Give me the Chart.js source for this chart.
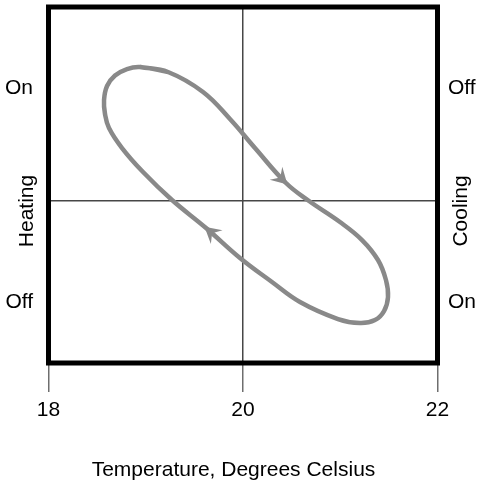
<!DOCTYPE html>
<html>
<head>
<meta charset="utf-8">
<title>Thermostat loop</title>
<script src="https://cdn.jsdelivr.net/npm/chart.js@4.4.0/dist/chart.umd.min.js"></script>
<style>
  html, body { margin: 0; padding: 0; background: #fff; }
  #wrap { width: 479px; height: 485px; }
</style>
</head>
<body>
<div id="wrap"><canvas id="loopChart"></canvas></div>
<script>
// temperature / controller state going round the loop (clockwise from the top),
// first two points repeated at the end so the curve closes smoothly
const loopTemp = [18.941, 19.229, 19.589, 19.866, 20.123, 20.442, 20.679, 20.997, 21.224, 21.388,
                  21.470, 21.491, 21.450, 21.357, 21.203, 20.977, 20.586, 20.298, 19.969, 19.620,
                  19.270, 18.972, 18.756, 18.622, 18.581, 18.571, 18.602, 18.684, 18.807, 18.941,
                  19.229];
const loopState = [3.764, 3.624, 3.062, 2.303, 1.489, 0.506, 0.0, -0.590, -1.096, -1.657,
                   -2.219, -2.697, -3.090, -3.343, -3.427, -3.315, -2.837, -2.275, -1.601, -0.758,
                   0.028, 0.815, 1.489, 2.051, 2.444, 2.837, 3.230, 3.525, 3.708, 3.764,
                   3.624];
// indexes of the loop points that carry a direction arrow
const arrowAt = [5, 19];

const tempTicks = [18, 20, 22];
const stateLevels = [3.17, -2.84];
const heatingLabels = ['On', 'Off'];
const coolingLabels = ['Off', 'On'];
const sideTitles = ['Heating', 'Cooling'];
const xTitle = 'Temperature, Degrees Celsius';

const FONT = '"Liberation Sans", Arial, Helvetica, sans-serif';
const lineGrey = '#898989';
const ruleGrey = '#474747';

function stateTicks(scale) {
  scale.ticks = [stateLevels[0], 0, stateLevels[1]].map(v => ({ value: v }));
}

function fixBox(w, h) {
  return s => {
    if (w) s.width = w;
    if (h) s.height = h;
    s.paddingTop = s.paddingBottom = s.paddingLeft = s.paddingRight = 0;
  };
}

// thick black box round the plot
const frame = {
  id: 'frame',
  beforeDatasetsDraw(chart) {
    const { ctx, chartArea: a } = chart;
    ctx.save();
    ctx.strokeStyle = '#000';
    ctx.lineWidth = 5;
    ctx.strokeRect(a.left, a.top, a.right - a.left, a.bottom - a.top);
    ctx.restore();
  }
};

// arrowheads showing which way the loop runs
const loopArrows = {
  id: 'loopArrows',
  afterDatasetsDraw(chart) {
    const pts = chart.getDatasetMeta(0).data;
    const ctx = chart.ctx;
    arrowAt.forEach(i => {
      const a = pts[i - 1], b = pts[i + 1], tip = pts[i];
      ctx.save();
      ctx.translate(tip.x, tip.y);
      ctx.rotate(Math.atan2(b.y - a.y, b.x - a.x));
      ctx.fillStyle = lineGrey;
      ctx.beginPath();
      ctx.moveTo(2, 0);
      ctx.lineTo(-14, -9);
      ctx.lineTo(-8, 0);
      ctx.lineTo(-14, 9);
      ctx.closePath();
      ctx.fill();
      ctx.restore();
    });
  }
};

// rotated "Heating" / "Cooling" names and the temperature caption
const captions = {
  id: 'captions',
  afterDraw(chart) {
    const { ctx, chartArea: a } = chart;
    const midY = (a.top + a.bottom) / 2 + 26;
    const xs = [a.left - 21.5, a.right + 23.5];
    ctx.save();
    ctx.font = '21px ' + FONT;
    ctx.fillStyle = '#000';
    ctx.textAlign = 'center';
    ctx.textBaseline = 'middle';
    sideTitles.forEach((t, i) => {
      ctx.save();
      ctx.translate(xs[i], midY);
      ctx.rotate(-Math.PI / 2);
      ctx.fillText(t, 0, 0);
      ctx.restore();
    });
    ctx.fillText(xTitle, a.left + 185, a.bottom + 107);
    ctx.restore();
  }
};

new Chart(document.getElementById('loopChart'), {
  type: 'scatter',
  data: {
    datasets: [{
      data: loopTemp.map((t, i) => ({ x: t, y: loopState[i] })),
      showLine: true,
      borderColor: lineGrey,
      borderWidth: 4.5,
      pointRadius: 0,
      tension: 0.4,
      fill: false
    }]
  },
  options: {
    responsive: true,
    maintainAspectRatio: false,
    animation: false,
    layout: { padding: { top: 7, right: 0, bottom: 0, left: 0 } },
    plugins: {
      legend: { display: false },
      tooltip: { enabled: false }
    },
    scales: {
      x: {
        type: 'linear',
        min: tempTicks[0],
        max: tempTicks[tempTicks.length - 1],
        afterBuildTicks: s => { s.ticks = tempTicks.map(v => ({ value: v })); },
        afterFit: fixBox(0, 122),
        border: { display: false },
        grid: {
          color: c => (c.tick && c.tick.value === 20 ? ruleGrey : 'rgba(0,0,0,0)'),
          lineWidth: 1.5,
          tickLength: 29,
          tickColor: '#6e6e6e',
          tickWidth: 1.5
        },
        ticks: {
          padding: 6,
          color: '#000',
          font: { family: FONT, size: 21 },
          maxRotation: 0
        }
      },
      y: {
        min: -4.55,
        max: 5.45,
        afterBuildTicks: stateTicks,
        afterFit: fixBox(48.5, 0),
        border: { display: false },
        grid: {
          drawTicks: false,
          color: c => (c.tick && c.tick.value === 0 ? ruleGrey : 'rgba(0,0,0,0)'),
          lineWidth: 1.5
        },
        ticks: {
          autoSkip: false,
          padding: 15.5,
          color: '#000',
          font: { family: FONT, size: 21 },
          callback: v => (v === stateLevels[0] ? heatingLabels[0] : v === stateLevels[1] ? heatingLabels[1] : '')
        }
      },
      y2: {
        position: 'right',
        min: -4.55,
        max: 5.45,
        afterBuildTicks: stateTicks,
        afterFit: fixBox(41.5, 0),
        border: { display: false },
        grid: { drawOnChartArea: false, drawTicks: false },
        ticks: {
          autoSkip: false,
          padding: 10.5,
          color: '#000',
          font: { family: FONT, size: 21 },
          callback: v => (v === stateLevels[0] ? coolingLabels[0] : v === stateLevels[1] ? coolingLabels[1] : '')
        }
      }
    }
  },
  plugins: [frame, loopArrows, captions]
});
</script>
</body>
</html>
